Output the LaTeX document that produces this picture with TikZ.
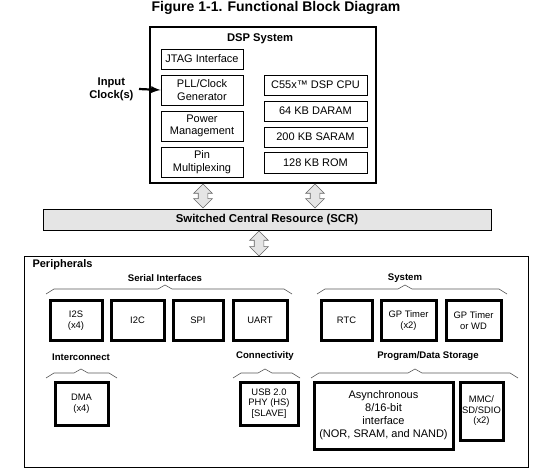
\documentclass[tikz,border=0pt]{standalone}
\usepackage{fontspec}
\setmainfont{Liberation Sans}
\usetikzlibrary{shapes.arrows}
\newcommand*{\thinw}{0.9pt}
\newcommand*{\thickw}{3pt}
\newcommand*{\brk}[4]{% x left, x peak, x right, y
    \draw[black!65, line width=0.6pt] (#1,#4+5) -- (#1+8,#4) -- (#2-7,#4) -- (#2,#4-4) -- (#2+7,#4) -- (#3-8,#4) -- (#3,#4+5);}

\tikzset{
    cpubox/.style={draw, line width=\thinw, align=center, inner sep=1pt, font=\fontsize{11}{12.5}\selectfont},
    perbox/.style={draw, line width=\thickw, align=center, inner sep=1pt, font=\fontsize{9.4}{10.5}\selectfont},
    grouplabel/.style={font=\bfseries\fontsize{9.6}{11}\selectfont},
    busarrow/.style={double arrow, shape border rotate=90, draw=black!60, fill=gray!20, line width=0.6pt,
        inner sep=4.5pt, double arrow head extend=4.5pt, minimum height=24pt},
}

\begin{document}
\begin{tikzpicture}[x=1pt, y=-1pt]
    \useasboundingbox (0,0) rectangle (555,476);
    % title
    \node (title) at (276,8) {\bfseries\fontsize{14}{16}\selectfont Figure 1-1. Functional Block Diagram};
    % DSP system
    \node[draw, line width=2.6pt, minimum width=226pt, minimum height=156pt] (dsp) at (263,105) {};
    \node[font=\bfseries\fontsize{11.2}{13}\selectfont] (dsplabel) at (260,39) {DSP System};
    % left column
    \node[cpubox, minimum width=82pt, minimum height=20pt] (jtag) at (202,59) {JTAG Interface};
    \node[cpubox, minimum width=82pt, minimum height=30pt] (pll) at (202,90) {PLL/Clock\\Generator};
    \node[cpubox, minimum width=82pt, minimum height=30pt] (pwr) at (202,126) {Power\\Management};
    \node[cpubox, minimum width=82pt, minimum height=30pt] (pin) at (202,162) {Pin\\Multiplexing};
    % right column
    \node[cpubox, minimum width=103pt, minimum height=20pt] (cpu) at (315.5,85) {C55x™ DSP CPU};
    \node[cpubox, minimum width=103pt, minimum height=20pt] (daram) at (315.5,111) {64 KB DARAM};
    \node[cpubox, minimum width=103pt, minimum height=20pt] (saram) at (315.5,137) {200 KB SARAM};
    \node[cpubox, minimum width=103pt, minimum height=21pt] (rom) at (315.5,162.5) {128 KB ROM};
    % input clock
    \node[anchor=east, align=center, font=\bfseries\fontsize{11.2}{13}\selectfont] (clkin) at (137,89) {Input\\Clock(s)};
    \draw[-latex, line width=2.2pt] (clkin.east) ++(2,0) coordinate (clkstart) (clkstart) -- (pll.west);
    % SCR
    \node[draw, line width=\thinw, fill=gray!20, minimum width=448pt, minimum height=21pt,
        font=\bfseries\fontsize{11.4}{13}\selectfont] (scr) at (267,219.5) {Switched Central Resource (SCR)};
    \node[busarrow] (busa) at (203,196) {};
    \node[busarrow] (busb) at (315,196) {};
    \node[busarrow, minimum height=25pt] (busc) at (259,243.5) {};
    % peripherals
    \node[draw, line width=\thinw, minimum width=504pt, minimum height=211pt] (periph) at (276,361.5) {};
    \node[anchor=west, font=\bfseries\fontsize{11}{13}\selectfont] (perlabel) at (29,265) {Peripherals};
    % serial interfaces
    \node[grouplabel] (serlabel) at (165,278) {Serial Interfaces};
    \brk{46}{165}{292}{289}
    \node[perbox, minimum width=52pt, minimum height=39pt] (i2s) at (76,320.5) {I2S\\(x4)};
    \node[perbox, minimum width=53pt, minimum height=39pt] (i2c) at (137.5,320.5) {I2C};
    \node[perbox, minimum width=50pt, minimum height=39pt] (spi) at (198,320.5) {SPI};
    \node[perbox, minimum width=54pt, minimum height=39pt] (uart) at (260,320.5) {UART};
    % system
    \node[grouplabel] (syslabel) at (405,278) {System};
    \brk{317}{405}{507}{289}
    \node[perbox, minimum width=51pt, minimum height=39pt] (rtc) at (346.5,320.5) {RTC};
    \node[perbox, minimum width=55pt, minimum height=39pt] (gpt) at (408.5,320.5) {GP Timer\\(x2)};
    \node[perbox, minimum width=55pt, minimum height=39pt] (wdt) at (473.5,320.5) {GP Timer\\or WD};
    % interconnect
    \node[grouplabel] (intlabel) at (81,357) {Interconnect};
    \brk{46}{81}{117}{373}
    \node[perbox, minimum width=53pt, minimum height=43pt] (dma) at (81.5,403.5) {DMA\\(x4)};
    % connectivity
    \node[grouplabel] (conlabel) at (265,356) {Connectivity};
    \brk{233}{265}{300}{373}
    \node[perbox, minimum width=58pt, minimum height=43pt] (usb) at (269,403.5) {USB 2.0\\PHY (HS)\\{[SLAVE]}};
    % program/data storage
    \node[grouplabel] (stolabel) at (428,356) {Program/Data Storage};
    \brk{311}{415}{518}{373}
    \node[perbox, minimum width=139pt, minimum height=67pt, font=\fontsize{11}{13}\selectfont] (async) at (383.5,415.5) {Asynchronous\\8/16-bit\\interface\\(NOR, SRAM, and NAND)};
    \node[perbox, minimum width=43pt, minimum height=58pt] (mmc) at (481.5,411) {MMC/\\SD/SDIO\\(x2)};
\end{tikzpicture}
\end{document}
